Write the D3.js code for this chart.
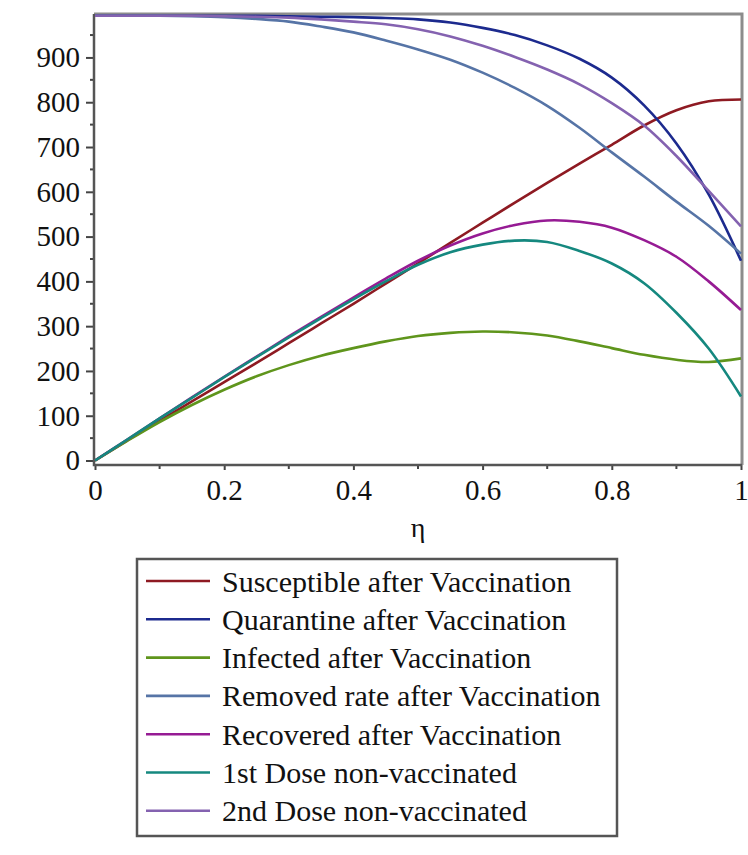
<!DOCTYPE html>
<html>
<head>
<meta charset="utf-8">
<script src="https://cdn.jsdelivr.net/npm/d3@7"></script>
<style>
  body { margin: 0; background: #fff; }
  svg text { font-family: "Liberation Serif", "Times New Roman", serif; fill: #111; }
</style>
</head>
<body>
<div id="chart"></div>
<script>
"use strict";

const eta = [0, 0.05, 0.1, 0.15, 0.2, 0.25, 0.3, 0.35, 0.4, 0.45, 0.5,
    0.55, 0.6, 0.65, 0.7, 0.75, 0.8, 0.85, 0.9, 0.95, 1];

const susceptible = [0, 45, 89, 132, 175, 218, 262, 306, 350, 395, 440,
    486, 531, 576, 620, 663, 705, 748, 782, 802, 806];
const quarantine = [993, 993, 993, 993, 993, 993, 992, 991, 990, 988, 985,
    978, 966, 950, 927, 897, 855, 793, 708, 594, 446];
const infected = [0, 44, 86, 124, 158, 188, 213, 234, 251, 266, 278,
    285, 288, 286, 279, 266, 251, 236, 225, 220, 228];
const removed = [993, 993, 993, 992, 990, 986, 980, 969, 956, 938, 918,
    895, 866, 832, 792, 743, 688, 634, 578, 524, 462];
const recovered = [0, 47, 94, 141, 187, 232, 277, 321, 364, 406, 446,
    480, 507, 526, 536, 533, 520, 492, 455, 400, 336];
const dose1 = [0, 47, 94, 140, 186, 231, 275, 318, 360, 400, 437,
    465, 482, 491, 488, 468, 440, 396, 330, 250, 143];
const dose2 = [993, 993, 993, 993, 992, 991, 989, 985, 980, 974, 963,
    947, 926, 901, 873, 840, 798, 748, 680, 602, 523];

const seriesNames = ["Susceptible after Vaccination", "Quarantine after Vaccination",
    "Infected after Vaccination", "Removed rate after Vaccination",
    "Recovered after Vaccination", "1st Dose non-vaccinated", "2nd Dose non-vaccinated"];
const seriesValues = [susceptible, quarantine, infected, removed, recovered, dose1, dose2];
const seriesColors = ["#8e1a22", "#1c2a8e", "#5f951c", "#5674a6", "#961b94", "#15887f", "#8462b0"];

const xTicks = [0, 0.2, 0.4, 0.6, 0.8, 1];
const yTicks = [0, 100, 200, 300, 400, 500, 600, 700, 800, 900];

const width = 748, height = 855;

const svg = d3.select("#chart").append("svg")
    .attr("width", width)
    .attr("height", height);

// plot area
const plot = { left: 94, right: 742, top: 14, bottom: 465 };

const x = d3.scaleLinear().domain([0, 1]).range([95, 741]);
const y = d3.scaleLinear().domain([-10, 997]).range([plot.bottom, plot.top]);

// gray frame (top / right)
svg.append("path")
    .attr("d", `M${plot.left},${plot.top}H${plot.right}V${plot.bottom}`)
    .attr("fill", "none")
    .attr("stroke", "#8c8c8c")
    .attr("stroke-width", 3);

// y axis with minor ticks
const yAxis = svg.append("g")
    .attr("transform", `translate(${plot.left},0)`)
    .call(d3.axisLeft(y).tickValues(yTicks).tickSize(8).tickPadding(6).tickFormat(d3.format("d")))
    .call(g => g.select(".domain").remove());

yAxis.selectAll(".tick line").attr("stroke", "#444").attr("stroke-width", 2);
yAxis.selectAll(".tick text").style("font-size", "29px").attr("fill", "#111");

svg.append("g")
    .selectAll("line")
    .data(d3.range(50, 1000, 100))
    .join("line")
    .attr("x1", plot.left - 4)
    .attr("x2", plot.left)
    .attr("y1", d => y(d))
    .attr("y2", d => y(d))
    .attr("stroke", "#444")
    .attr("stroke-width", 2);

// x axis with minor ticks
const xAxis = svg.append("g")
    .attr("transform", `translate(0,${plot.bottom})`)
    .call(d3.axisBottom(x).tickValues(xTicks).tickSize(5).tickPadding(9).tickFormat(d3.format("")))
    .call(g => g.select(".domain").remove());

xAxis.selectAll(".tick line").attr("stroke", "#444").attr("stroke-width", 2);
xAxis.selectAll(".tick text").style("font-size", "29px").attr("fill", "#111");

svg.append("g")
    .selectAll("line")
    .data(d3.range(0.1, 1, 0.2))
    .join("line")
    .attr("x1", d => x(d))
    .attr("x2", d => x(d))
    .attr("y1", plot.bottom)
    .attr("y2", plot.bottom + 4)
    .attr("stroke", "#444")
    .attr("stroke-width", 2);

// left and bottom axis lines
svg.append("path")
    .attr("d", `M${plot.left},${plot.top}V${plot.bottom}H${plot.right}`)
    .attr("fill", "none")
    .attr("stroke", "#555")
    .attr("stroke-width", 2.5);

// x axis label
svg.append("text")
    .attr("x", (plot.left + plot.right) / 2)
    .attr("y", 537)
    .attr("text-anchor", "middle")
    .style("font-size", "28px")
    .text("η");

// curves
const line = d3.line()
    .x((d, i) => x(eta[i]))
    .y(d => y(d))
    .curve(d3.curveCatmullRom.alpha(0.5));

svg.append("g")
    .selectAll("path")
    .data(seriesValues)
    .join("path")
    .attr("d", d => line(d))
    .attr("fill", "none")
    .attr("stroke", (d, i) => seriesColors[i])
    .attr("stroke-width", 2.6);

// legend
const legend = { left: 137, top: 559, right: 617, bottom: 836, row0: 581, rowGap: 38.3 };

svg.append("rect")
    .attr("x", legend.left)
    .attr("y", legend.top)
    .attr("width", legend.right - legend.left)
    .attr("height", legend.bottom - legend.top)
    .attr("fill", "#fff")
    .attr("stroke", "#555")
    .attr("stroke-width", 2.5);

const items = svg.append("g")
    .selectAll("g")
    .data(seriesNames)
    .join("g")
    .attr("transform", (d, i) => `translate(0,${legend.row0 + i * legend.rowGap})`);

items.append("line")
    .attr("x1", 146)
    .attr("x2", 210)
    .attr("stroke", (d, i) => seriesColors[i])
    .attr("stroke-width", 2.6);

items.append("text")
    .attr("x", 222)
    .attr("dy", "0.35em")
    .style("font-size", "30px")
    .text(d => d);
</script>
</body>
</html>
